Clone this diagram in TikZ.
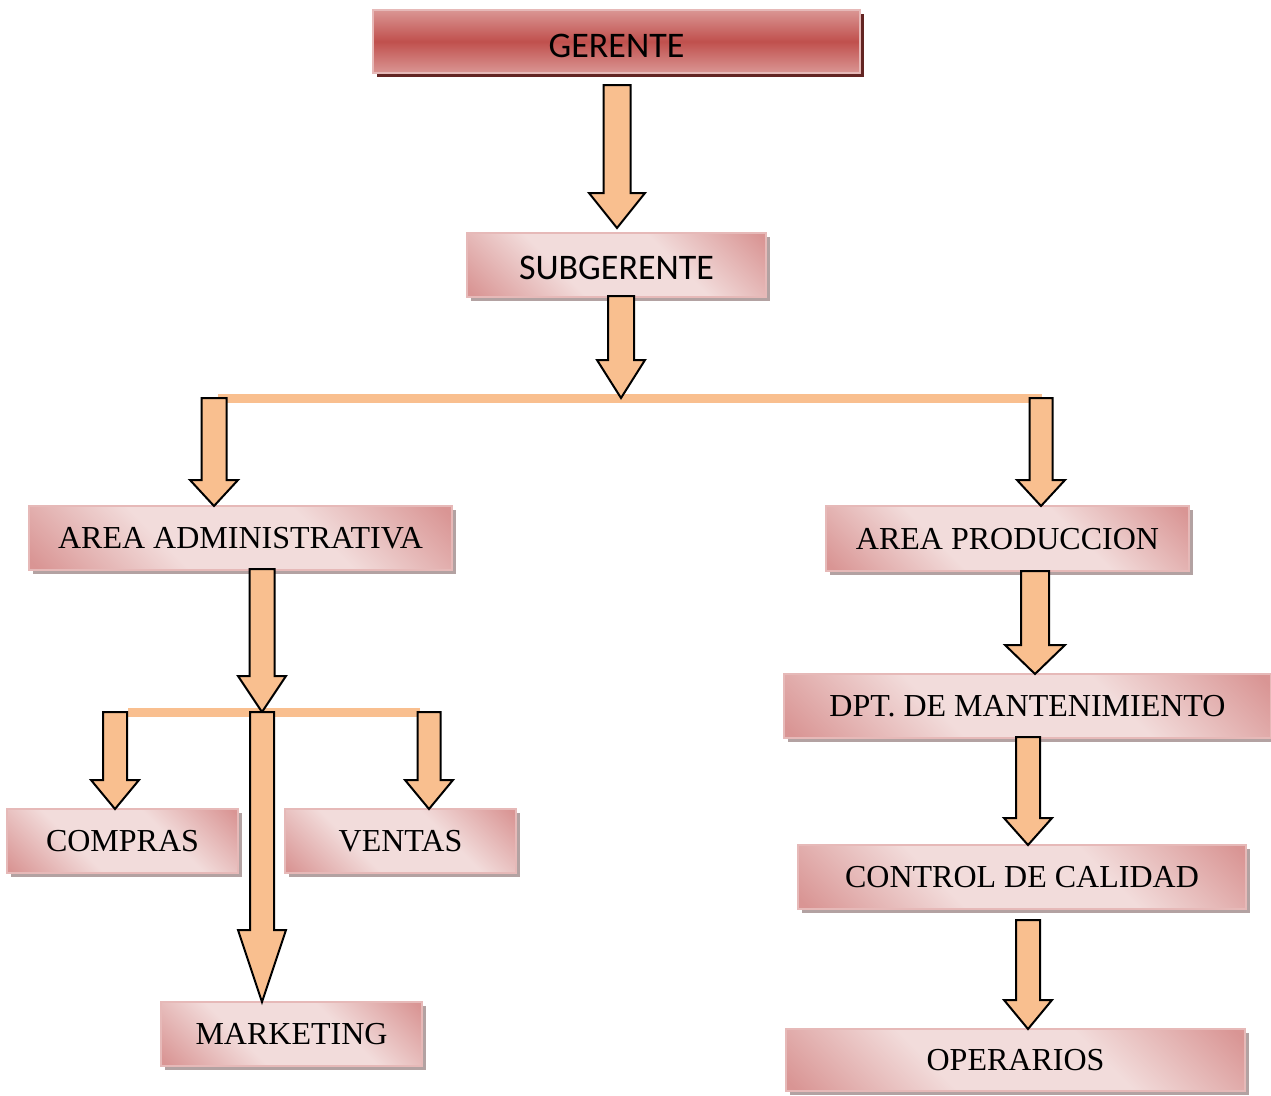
\documentclass[tikz,border=0pt]{standalone}
\usepackage{fontspec}
\setmainfont{Liberation Serif}
\newfontfamily\calibfont{Carlito}
\usetikzlibrary{calc,shadows}
\definecolor{arrfill}{HTML}{F9BF8F}
\definecolor{pinkdark}{HTML}{D99594}
\definecolor{pinklight}{HTML}{F2DCDB}
\definecolor{redmid}{HTML}{C0504D}
\definecolor{redlight}{HTML}{DA9694}
\definecolor{shadowdark}{HTML}{632523}
\definecolor{shadowgrey}{HTML}{B3A2A2}
\definecolor{boxborder}{HTML}{E6B9B8}
\pgfdeclarehorizontalshading{pinkdiag}{100bp}{color(0bp)=(pinkdark); color(16bp)=(pinkdark); color(38bp)=(pinklight); color(62bp)=(pinklight); color(84bp)=(pinkdark); color(100bp)=(pinkdark)}
\tikzset{
  pinkbox/.style n args={2}{rectangle, inner sep=0pt, draw=boxborder, line width=1.5pt,
    minimum width=#1pt, minimum height=#2pt,
    drop shadow={shadow xshift=4pt, shadow yshift=-4pt, fill=shadowgrey, opacity=1},
    shade, shading=pinkdiag, shading angle=45,
    font=\fontsize{32}{38}\selectfont, text height=21pt, text depth=0pt},
  redbox/.style={rectangle, inner sep=0pt, draw=boxborder, line width=1.5pt,
    drop shadow={shadow xshift=4pt, shadow yshift=-4pt, fill=shadowdark, opacity=1},
    top color=redlight, bottom color=redlight, middle color=redmid,
    font=\calibfont\fontsize{36}{42}\selectfont, text height=31pt, text depth=0pt},
  arrowst/.style={fill=arrfill, draw=black, line width=2pt, line join=miter},
  barline/.style={draw=arrfill, line width=9pt}
}
% #1 start, #2 tip, #3 half shaft, #4 half head, #5 head length
\newcommand\blkarrow[5]{%
  \draw[arrowst] ($(#2|-#1)+(-#3,0)$) -- ($(#2)+(-#3,-#5)$) -- ($(#2)+(-#4,-#5)$) -- (#2)
    -- ($(#2)+(#4,-#5)$) -- ($(#2)+(#3,-#5)$) -- ($(#2|-#1)+(#3,0)$) -- cycle;}
\begin{document}
\begin{tikzpicture}[x=1pt,y=-1pt]
\useasboundingbox (0,0) rectangle (1271,1095);
% boxes
\node[redbox, minimum width=487pt, minimum height=63pt] (ger) at (616.5,41.5) {GERENTE};
\node[pinkbox={299}{64}, font=\calibfont\fontsize{36}{42}\selectfont, text height=29pt] (sub) at (616.5,265) {SUBGERENTE};
\node[pinkbox={423}{64}] (adm) at (240.5,538) {AREA ADMINISTRATIVA};
\node[pinkbox={363}{65}] (prod) at (1007.5,538.5) {AREA PRODUCCION};
\node[pinkbox={487}{64}] (dpt) at (1027.5,706) {DPT. DE MANTENIMIENTO};
\node[pinkbox={231}{64}] (comp) at (122.5,841) {COMPRAS};
\node[pinkbox={231}{64}] (vent) at (400.5,841) {VENTAS};
\node[pinkbox={448}{64}] (ctrl) at (1022,877) {CONTROL DE CALIDAD};
\node[pinkbox={261}{64}] (mkt) at (291.5,1034) {MARKETING};
\node[pinkbox={459}{62}] (oper) at (1015.5,1060) {OPERARIOS};
% junction coordinates
\coordinate (j1) at (621,398);
\coordinate (j1l) at (218,398);
\coordinate (j1r) at (1042,398);
\coordinate (j2) at (262,712);
\coordinate (j2l) at (128,712);
\coordinate (j2r) at (420,712);
\draw[barline] (j1l) -- (j1r);
\draw[barline] (j2l) -- (j2r);
% arrow anchors
\coordinate (a1s) at (617,85);   \coordinate (a1t) at (617,228);
\coordinate (a2s) at (621,296);
\coordinate (a3s) at (214,398);  \coordinate (a3t) at (214,506);
\coordinate (a4s) at (1041,398); \coordinate (a4t) at (1041,506);
\coordinate (a5s) at (262,569);
\coordinate (a6s) at (115,712);  \coordinate (a6t) at (115,809);
\coordinate (a7s) at (429,712);  \coordinate (a7t) at (429,809);
\coordinate (a8t) at (262,1002);
\coordinate (a9s) at (1035,571); \coordinate (a9t) at (1035,674);
\coordinate (a10s) at (1028,737); \coordinate (a10t) at (1028,845);
\coordinate (a11s) at (1028,920); \coordinate (a11t) at (1028,1029);
\blkarrow{a1s}{a1t}{13.5}{28}{35}
\blkarrow{a2s}{j1}{13}{24}{38}
\blkarrow{a3s}{a3t}{12.5}{24}{26}
\blkarrow{a4s}{a4t}{11.5}{24}{26}
\blkarrow{a5s}{j2}{12.5}{24}{36}
\blkarrow{a6s}{a6t}{12}{24}{29}
\blkarrow{a7s}{a7t}{11.5}{24}{29}
\blkarrow{j2}{a8t}{12}{24}{72}
\blkarrow{a9s}{a9t}{14}{30}{29}
\blkarrow{a10s}{a10t}{12}{24}{27}
\blkarrow{a11s}{a11t}{12}{24}{29}
\end{tikzpicture}
\end{document}
